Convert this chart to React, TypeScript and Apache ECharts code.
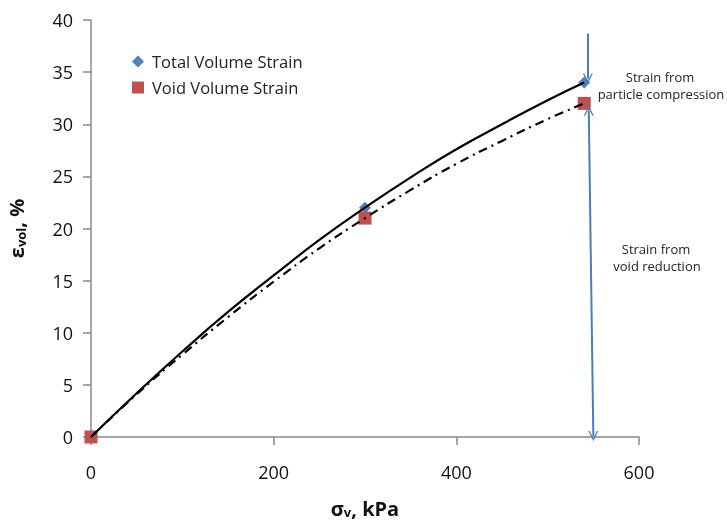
import React, { useEffect, useRef } from "react";
import * as echarts from "echarts";

const totalStrain: [number, number][] = [[0, 0], [300, 22], [540, 34]];
const voidStrain: [number, number][] = [[0, 0], [300, 21], [540, 32]];
// trend curves
const totalCurve: [number, number][] = [
  [0, 0], [50, 4.2], [100, 8.2], [150, 12.0], [200, 15.5], [250, 18.9], [300, 22],
  [350, 24.9], [400, 27.6], [450, 30.0], [500, 32.3], [540, 34],
];
const voidCurve: [number, number][] = [
  [0, 0], [50, 4.1], [100, 7.9], [150, 11.5], [200, 14.9], [250, 18.1], [300, 21],
  [350, 23.7], [400, 26.2], [450, 28.4], [500, 30.5], [540, 32],
];
// arrows
const arrowTop: [number, number][] = [[544, 38.7], [544, 34.4]];
const arrowBottom: [number, number][] = [[545, 31.3], [550, 0.1]];

const chevron = "path://M0,10L5,0L10,10L8.6,10L5,3L1.4,10Z";

export default function App() {
  const ref = useRef<HTMLDivElement>(null);
  useEffect(() => {
    const chart = echarts.init(ref.current!, null, { renderer: "svg" });
    const font = "'Open Sans', sans-serif";
    const annot = (text: string, x: number, y: number) => ({
      type: "text",
      x,
      y,
      style: {
        text,
        fontSize: 13,
        fill: "#222",
        fontFamily: font,
        textAlign: "center",
        textVerticalAlign: "middle",
      },
    });
    chart.setOption({
      animation: false,
      textStyle: { fontFamily: font },
      grid: { left: 91, right: 88, top: 20, bottom: 85, outerBoundsMode: "none", containLabel: false },
      legend: {
        orient: "vertical",
        left: 127,
        top: 48,
        itemGap: 9,
        itemWidth: 12,
        itemHeight: 12,
        textStyle: { fontSize: 16.5, color: "#222", fontFamily: font, padding: [0, 0, 0, 3] },
        data: [
          { name: "Total Volume Strain", icon: "diamond" },
          { name: "Void Volume Strain", icon: "rect" },
        ],
      },
      xAxis: {
        type: "value",
        min: 0,
        max: 600,
        interval: 200,
        splitLine: { show: false },
        axisLine: { lineStyle: { color: "#888", width: 1.5 } },
        axisTick: { show: true, inside: false, length: 8, lineStyle: { color: "#888", width: 1.5 } },
        axisLabel: { fontSize: 18, color: "#111", margin: 26, fontFamily: font },
        name: "{b|σ}{s|v}{b|, kPa}",
        nameLocation: "middle",
        nameGap: 61,
        nameTextStyle: {
          rich: {
            b: { fontSize: 20, fontWeight: "bold", color: "#111", fontFamily: font },
            s: { fontSize: 13, fontWeight: "bold", color: "#111", fontFamily: font, padding: [7, 0, 0, 0] },
          },
        },
      },
      yAxis: {
        type: "value",
        min: 0,
        max: 40,
        interval: 5,
        splitLine: { show: false },
        axisLine: { show: true, lineStyle: { color: "#888", width: 1.5 } },
        axisTick: { show: true, inside: false, length: 8, lineStyle: { color: "#888", width: 1.5 } },
        axisLabel: { fontSize: 18, color: "#111", margin: 18, fontFamily: font },
        name: "{b|ε}{s|vol}{b|, %}",
        nameLocation: "middle",
        nameRotate: 90,
        nameGap: 64,
        nameTextStyle: {
          rich: {
            b: { fontSize: 20, fontWeight: "bold", color: "#111", fontFamily: font },
            s: { fontSize: 13, fontWeight: "bold", color: "#111", fontFamily: font, padding: [9, 0, 0, 0] },
          },
        },
      },
      series: [
        {
          name: "totalCurve",
          type: "line",
          data: totalCurve,
          smooth: true,
          showSymbol: false,
          symbol: "none",
          lineStyle: { color: "#000", width: 2.2 },
          z: 3,
          markLine: {
            silent: true,
            symbol: ["none", chevron],
            symbolSize: [10, 10],
            label: { show: false },
            lineStyle: { color: "#4a7ebb", width: 2, type: "solid" },
            data: [[{ coord: arrowTop[0] }, { coord: arrowTop[1] }]],
          },
        },
        {
          name: "voidCurve",
          type: "line",
          data: voidCurve,
          smooth: true,
          showSymbol: false,
          symbol: "none",
          lineStyle: { color: "#000", width: 2.2, type: [9, 5, 2, 5] },
          z: 3,
          markLine: {
            silent: true,
            symbol: [chevron, chevron],
            symbolSize: [10, 10],
            label: { show: false },
            lineStyle: { color: "#4a7ebb", width: 2, type: "solid" },
            data: [[{ coord: arrowBottom[0] }, { coord: arrowBottom[1] }]],
          },
        },
        {
          name: "Total Volume Strain",
          type: "scatter",
          data: totalStrain,
          symbol: "diamond",
          symbolSize: 12,
          itemStyle: { color: "#4f81bd", opacity: 1 },
          z: 2,
        },
        {
          name: "Void Volume Strain",
          type: "scatter",
          data: voidStrain,
          symbol: "rect",
          symbolSize: 13,
          itemStyle: { color: "#c0504d", opacity: 1 },
          z: 2,
        },
      ],
      graphic: [
        annot("Strain from", 660, 77),
        annot("particle compression", 661, 94),
        annot("Strain from", 656, 249),
        annot("void reduction", 657, 266),
      ],
    });
    return () => chart.dispose();
  }, []);
  return (
    <div
      ref={ref}
      style={{ position: "fixed", left: 0, top: 0, width: 727, height: 522 }}
    />
  );
}
